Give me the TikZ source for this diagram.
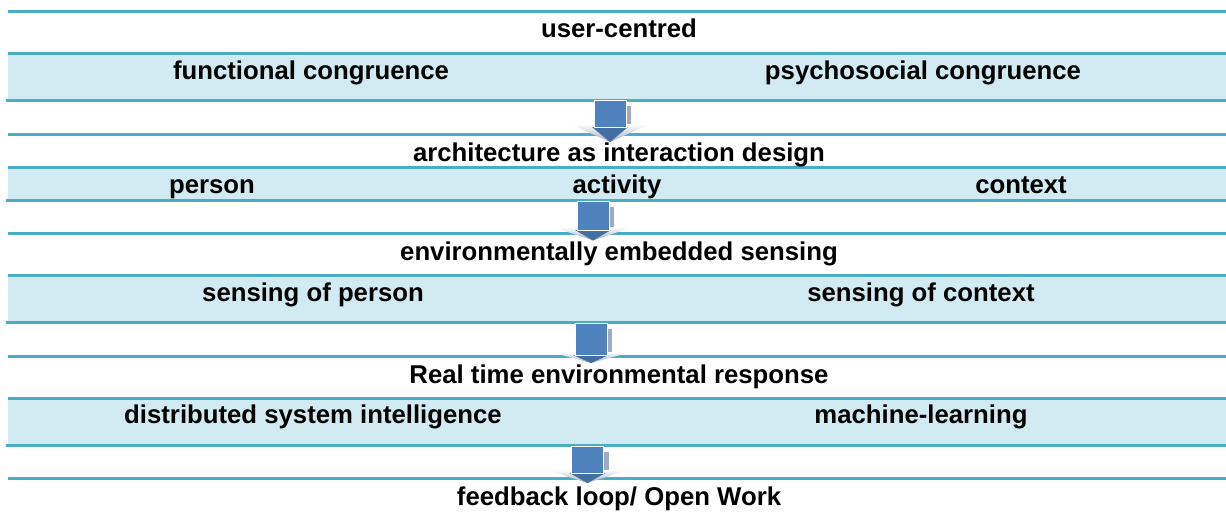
\documentclass[tikz,border=0pt]{standalone}
\usepackage{fontspec}
\setmainfont{Liberation Sans}
\definecolor{tablerule}{RGB}{75,172,198}
\definecolor{bandfill}{RGB}{210,234,241}
\definecolor{arrowblue}{RGB}{79,129,189}
\definecolor{arrowshade}{RGB}{160,172,190}

\tikzset{
  rowtext/.style={font=\fontsize{19.3}{23}\selectfont\bfseries, anchor=base, inner sep=0pt},
  bandrule/.style={tablerule, line width=2.25pt},
}

\begin{document}
\begin{tikzpicture}[x=0.75pt, y=-0.75pt]
    \useasboundingbox (0,0) rectangle (1226,514);
    % light bands
    \foreach \yt/\yb in {53.5/100.5, 167.5/200.5, 275.5/322.5, 398.5/445.5}
        \fill[bandfill] (8,\yt) rectangle (1226,\yb);
    % rules
    \foreach \y in {11.5, 53.5, 134.5, 167.5, 233.5, 275.5, 356.5, 398.5, 478.5}
        \draw[bandrule] (8,\y) -- (1226,\y);
    \foreach \y in {100.5, 200.5, 322.5, 445.5}
        \draw[bandrule] (6,\y) -- (1226,\y);
    % block arrows between the rows
    \foreach \cx/\yt/\yb/\yp in {610/100.5/127/142, 593/201.5/230/240.5, 591/323.5/355/363, 587.5/446.5/473/483}{
        \fill[arrowshade] (\cx+16,\yt+5) rectangle (\cx+21,\yb);
        \shade[top color=white, bottom color=arrowshade] (\cx-40,\yb-3) -- (\cx+40,\yb-3) -- (\cx,\yp) -- cycle;
        \fill[arrowblue!85!black] (\cx-18,\yb) -- (\cx+18,\yb) -- (\cx,\yp) -- cycle;
        \fill[arrowblue, draw=white, line width=0.6pt] (\cx-16,\yt) rectangle (\cx+16,\yb);
    }
    % texts
    \node[rowtext] (user) at (619,37.5) {user-centred};
    \node[rowtext] (funcong) at (311,79.5) {functional congruence};
    \node[rowtext] (psycong) at (923,79.5) {psychosocial congruence};
    \node[rowtext] (archi) at (619,161.5) {architecture as interaction design};
    \node[rowtext] (person) at (212,193) {person};
    \node[rowtext] (activity) at (617,193) {activity};
    \node[rowtext] (context) at (1021,193) {context};
    \node[rowtext] (embedded) at (619,260) {environmentally embedded sensing};
    \node[rowtext] (senseperson) at (313,301) {sensing of person};
    \node[rowtext] (sensecontext) at (921,301) {sensing of context};
    \node[rowtext] (realtime) at (619,383) {Real time environmental response};
    \node[rowtext] (distributed) at (313,423.5) {distributed system intelligence};
    \node[rowtext] (machine) at (921,423.5) {machine-learning};
    \node[rowtext] (feedback) at (619,505) {feedback loop/ Open Work};
\end{tikzpicture}
\end{document}
